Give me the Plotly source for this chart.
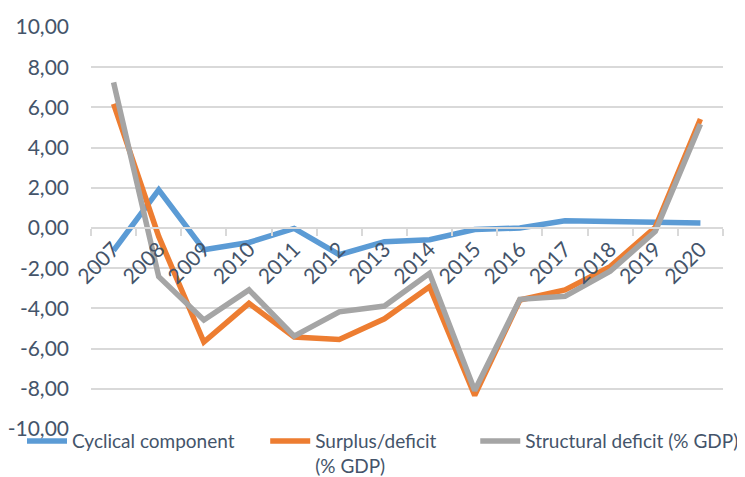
import plotly.graph_objects as go

years = ["2007", "2008", "2009", "2010", "2011", "2012", "2013", "2014",
         "2015", "2016", "2017", "2018", "2019", "2020"]
cyclical = [-1.12, 1.90, -1.08, -0.72, -0.02, -1.33, -0.68, -0.58,
            -0.08, 0.00, 0.36, 0.35, 0.28, 0.25]
surplus = [6.17, -0.42, -5.67, -3.75, -5.42, -5.55, -4.52, -2.92,
           -8.33, -3.58, -3.08, -1.92, 0.03, 5.42]
structural = [7.25, -2.42, -4.58, -3.08, -5.38, -4.17, -3.88, -2.25,
              -8.08, -3.55, -3.40, -2.15, -0.17, 5.17]
ytick_vals = [-10, -8, -6, -4, -2, 0, 2, 4, 6, 8, 10]
ytick_text = ["-10,00", "-8,00", "-6,00", "-4,00", "-2,00", "0,00",
              "2,00", "4,00", "6,00", "8,00", "10,00"]

names = ["Cyclical component", "Surplus/deficit<br>(% GDP)", "Structural deficit (% GDP)"]
colors = ["#5B9BD5", "#ED7D31", "#A5A5A5"]
series = [cyclical, surplus, structural]
legends = ["legend", "legend2", "legend3"]

TXT = "#44546A"
FONT = "Lato"

fig = go.Figure()
for s, n, c, lg in zip(series, names, colors, legends):
    fig.add_trace(go.Scatter(
        x=years, y=s, name=n, mode="lines",
        line=dict(color=c, width=5.5),
        legend=lg, showlegend=True,
    ))

leg_common = dict(orientation="h", yanchor="top", xanchor="left",
                  xref="container", yref="container",
                  font=dict(family=FONT, size=19, color=TXT),
                  bgcolor="rgba(0,0,0,0)", valign="top",
                  itemwidth=40, tracegroupgap=0)

fig.update_layout(
    width=737, height=469,
    showlegend=True,
    margin=dict(l=83, r=22, t=19, b=48, autoexpand=False),
    plot_bgcolor="white", paper_bgcolor="white",
    font=dict(family=FONT, size=21, color=TXT),
    xaxis=dict(
        type="category",
        anchor="free", position=0.5,
        showgrid=False,
        showline=True, linecolor="#D9D9D9", linewidth=1.5,
        ticks="outside", tickson="boundaries", ticklen=7,
        tickcolor="#D9D9D9", tickwidth=1.5,
        tickangle=-45,
        tickfont=dict(family=FONT, size=21, color=TXT),
        range=[-0.5, 13.5],
        zeroline=False,
    ),
    yaxis=dict(
        range=[-10, 10], domain=[0, 1],
        tickvals=ytick_vals, ticktext=ytick_text,
        showgrid=True, gridcolor="#D9D9D9", gridwidth=1.5,
        zeroline=False, showline=False,
        ticks="", ticklabelstandoff=21,
        tickfont=dict(family=FONT, size=21, color=TXT),
    ),
    legend=dict(x=0.019, y=0.117, **leg_common),
    legend2=dict(x=0.349, y=0.117, **leg_common),
    legend3=dict(x=0.634, y=0.117, **leg_common),
)

fig.write_html("out.html")
